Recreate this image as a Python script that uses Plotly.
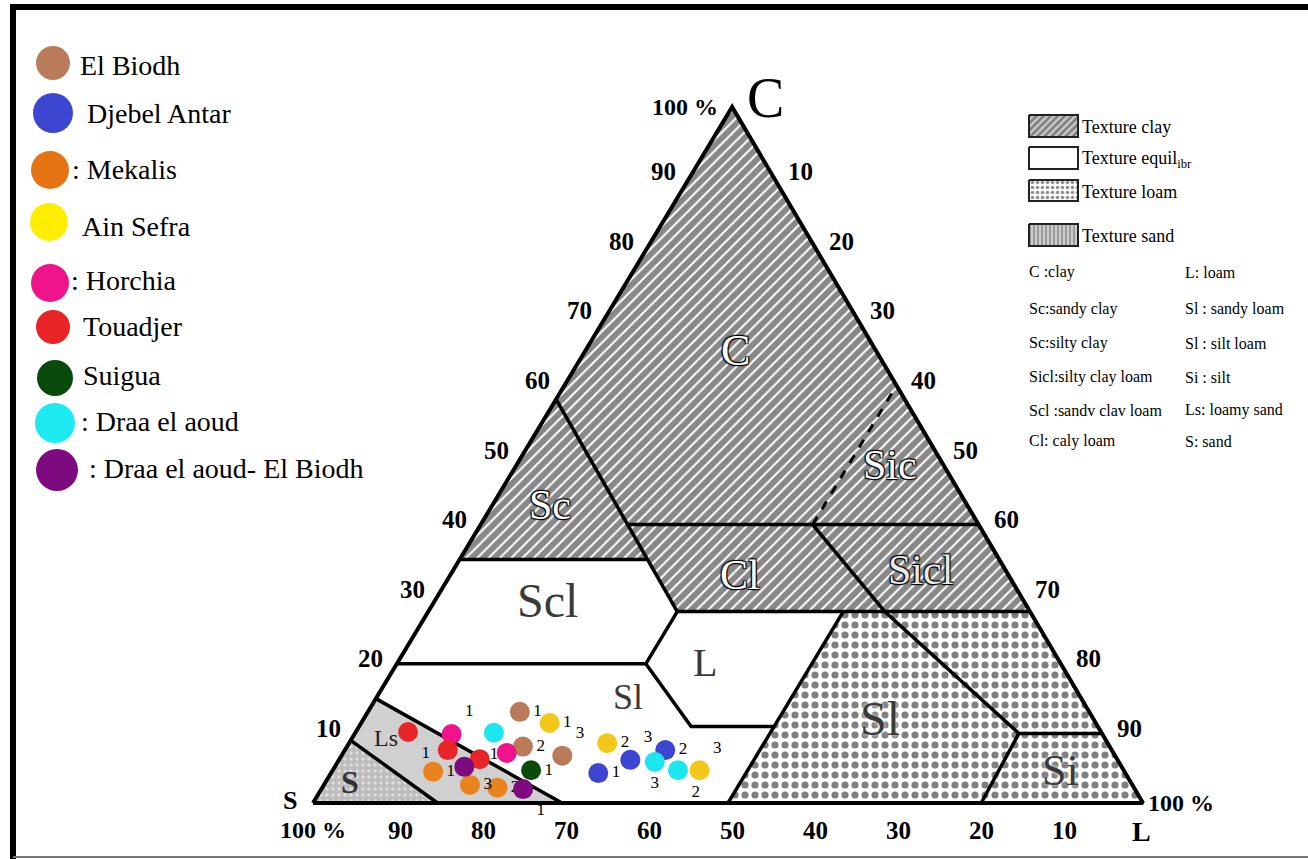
import plotly.graph_objects as go

# ------------------------------------------------------------------ data
# soil texture of each sample (percent clay / silt / sand)
elbiodh_clay = [13.1, 8.1, 6.8]
elbiodh_silt = [18.3, 21.2, 26.6]
elbiodh_sand = [68.6, 70.7, 66.6]
elbiodh_lab = ["1", "2", "3"]

djebel_clay = [4.3, 7.6, 6.2]
djebel_silt = [32.2, 38.6, 35.1]
djebel_sand = [63.5, 53.8, 58.7]
djebel_lab = ["1", "2", "3"]

mekalis_clay = [4.5, 2.2, 2.6]
mekalis_silt = [12.2, 21.1, 17.6]
mekalis_sand = [83.3, 76.7, 79.8]
mekalis_lab = ["1", "2", "3"]

ainsefra_clay = [11.5, 8.6, 4.7]
ainsefra_silt = [22.7, 31.1, 44.2]
ainsefra_sand = [65.8, 60.3, 51.1]
ainsefra_lab = ["1", "2", "3"]

horchia_clay = [9.9, 7.2]
horchia_silt = [11.7, 19.7]
horchia_sand = [78.4, 73.1]
horchia_lab = ["1", None]

touadjer_clay = [10.2, 7.6, 6.3]
touadjer_silt = [6.3, 12.4, 16.9]
touadjer_sand = [83.5, 80.0, 76.8]
touadjer_lab = ["1", None, None]

suigua_clay = [4.7]
suigua_silt = [23.9]
suigua_sand = [71.4]
suigua_lab = ["1"]

draa_clay = [10.1, 4.7, 5.9]
draa_silt = [16.7, 41.6, 38.2]
draa_sand = [73.2, 53.7, 55.9]
draa_lab = ["1", "2", "3"]

draabio_clay = [5.2, 2.0]
draabio_silt = [15.6, 24.3]
draabio_sand = [79.2, 73.7]
draabio_lab = [None, "1"]

axis_ticks = [10, 20, 30, 40, 50, 60, 70, 80, 90]

# ------------------------------------------------------------------ geometry helpers
W, H = 1308, 859
X0, YB, SX, SY = 313.0, 803.0, 8.3, 6.96   # pixel placement of the triangle
APEX = 0.505                                 # horizontal position of clay apex


def tern(clay, silt):
    """ternary (clay, silt) -> cartesian axis coordinates"""
    return silt + APEX * clay, clay


def tern_list(pts):
    xs, ys = [], []
    for p in pts:
        if p is None:
            xs.append(None); ys.append(None)
        else:
            x, y = tern(*p)
            xs.append(x); ys.append(y)
    return xs, ys


def P(px, py):
    """pixel -> axis coordinates (for decorations)"""
    return (px - X0) / SX, (YB - py) / SY


FONT = "Liberation Serif"
fig = go.Figure()

# ------------------------------------------------------------------ texture regions
clay_pat = dict(shape="/", fgcolor="#111111", bgcolor="white", size=8, solidity=0.75)
loam_pat = dict(shape=".", fgcolor="black", bgcolor="white", size=10, solidity=0.4)
sand_pat = dict(shape=".", fgcolor="white", bgcolor="#bdbdbd", size=6, solidity=0.25)


def region(pts, **kw):
    xs, ys = tern_list(pts + [pts[0]])
    fig.add_trace(go.Scatter(x=xs, y=ys, mode="lines", fill="toself",
                             line=dict(width=0), hoverinfo="skip",
                             showlegend=False, **kw))


# clay texture (C, Sc, Sic, Cl, Sicl)
region([(35, 0), (100, 0), (27.5, 72.5), (27.5, 30), (35, 22.5)],
       fillpattern=clay_pat, fillcolor="white")
# loam texture (Sl, Sil, Si)
region([(27.5, 50), (27.5, 72.5), (0, 100), (0, 50)],
       fillpattern=loam_pat, fillcolor="white")
# loamy sand
region([(15, 0), (9, 0), (0, 15), (0, 30)], fillcolor="#d0d0d0")
# sand
region([(0, 0), (9, 0), (0, 15)], fillpattern=sand_pat, fillcolor="#bdbdbd")

# ------------------------------------------------------------------ boundaries
lines_solid = [
    (58, 0), (27.5, 30), None,
    (40, 17.7), (40, 60), None,
    (35, 0), (35, 22.5), None,
    (27.5, 30), (27.5, 72.5), None,
    (20, 0), (20, 30), (27.5, 30), None,
    (20, 30), (11, 40), (11, 50), None,
    (27.5, 50), (0, 50), None,
    (40, 40), (27.5, 55), (10, 80), (10, 90), None,
    (10, 80), (0, 80.5), None,
    (15, 0), (0, 30), None,
    (9, 0), (0, 15), None,
]
xs, ys = tern_list(lines_solid)
fig.add_trace(go.Scatter(x=xs, y=ys, mode="lines", line=dict(color="black", width=3.5),
                         hoverinfo="skip", showlegend=False))
xs, ys = tern_list([(40, 40), (60, 40)])
fig.add_trace(go.Scatter(x=xs, y=ys, mode="lines",
                         line=dict(color="black", width=3, dash="dash"),
                         hoverinfo="skip", showlegend=False))
# outer triangle
xs, ys = tern_list([(0, 0), (100, 0), (0, 100), (0, 0)])
fig.add_trace(go.Scatter(x=xs, y=ys, mode="lines", line=dict(color="black", width=4),
                         hoverinfo="skip", showlegend=False))

# ------------------------------------------------------------------ samples
samples = [
    ("El Biodh", elbiodh_clay, elbiodh_silt, elbiodh_lab, "#B97B5A",
     ["middle right", "middle right", "top right"]),
    ("Djebel Antar", djebel_clay, djebel_silt, djebel_lab, "#3C46D0",
     ["middle right", "middle right", "top right"]),
    ("Mekalis", mekalis_clay, mekalis_silt, mekalis_lab, "#EA821E",
     ["middle right", "middle right", "middle right"]),
    ("Ain Sefra", ainsefra_clay, ainsefra_silt, ainsefra_lab, "#F3C81A",
     ["middle right", "middle right", "top right"]),
    ("Horchia", horchia_clay, horchia_silt, horchia_lab, "#F0148C",
     ["top right", "middle right"]),
    ("Touadjer", touadjer_clay, touadjer_silt, touadjer_lab, "#E8262A",
     ["bottom right", "middle right", "middle right"]),
    ("Suigua", suigua_clay, suigua_silt, suigua_lab, "#0A4A0A", ["middle right"]),
    ("Draa el aoud", draa_clay, draa_silt, draa_lab, "#1EE6EE",
     ["bottom center", "bottom right", "bottom center"]),
    ("Draa el aoud- El Biodh", draabio_clay, draabio_silt, draabio_lab, "#7E0A80",
     ["middle right", "bottom right"]),
]
for name, cl, si, lab, col, pos in samples:
    xs = [s + APEX * c for c, s in zip(cl, si)]
    fig.add_trace(go.Scatter(
        x=xs, y=cl, mode="markers+text", name=name,
        marker=dict(size=20, color=col, line=dict(width=0)),
        text=lab, textposition=pos,
        textfont=dict(family=FONT, size=17, color="black"),
        showlegend=False))

# ------------------------------------------------------------------ annotations
anns = []


def A(x, y, text, size, color="black", xanchor="center", yanchor="middle",
      bold=False, shadow=None):
    f = dict(family=FONT, size=size, color=color)
    if bold:
        f["weight"] = "bold"
    if shadow:
        f["shadow"] = shadow
    anns.append(dict(x=x, y=y, xref="x", yref="y", text=text, showarrow=False,
                     xanchor=xanchor, yanchor=yanchor, font=f))


def AP(px, py, text, size, **kw):
    x, y = P(px, py)
    A(x, y, text, size, **kw)


tick_font = dict(family=FONT, size=25, weight="bold", color="black")
for t in axis_ticks:
    # clay on the left edge
    x, y = tern(t, 0)
    anns.append(dict(x=x, y=y, text=str(t), showarrow=False, xanchor="right",
                     yanchor="middle", xshift=-12, yshift=5, font=tick_font))
    # silt on the right edge
    x, y = tern(100 - t, t)
    anns.append(dict(x=x, y=y, text=str(t), showarrow=False, xanchor="left",
                     yanchor="middle", xshift=13, yshift=5, font=tick_font))
    # sand on the bottom edge
    x, y = tern(0, 100 - t)
    anns.append(dict(x=x, y=y, text=str(t), showarrow=False, xanchor="center",
                     yanchor="middle", xshift=4, yshift=-27, font=tick_font))

AP(685, 107, "100 %", 24, bold=True)
AP(765, 98, "C", 56)
AP(313, 830, "100 %", 24, bold=True)
AP(290, 800, "S", 26, bold=True)
AP(1181, 803, "100 %", 24, bold=True)
AP(1141, 831, "L", 28, bold=True)

# region labels
sh = "1px 1px 1px #000, -1px -1px 1px #000, 1px -1px 1px #000, -1px 1px 1px #000"
AP(735, 350, "C", 44, color="white", shadow=sh)
AP(550, 505, "Sc", 42, color="white", shadow=sh)
AP(890, 465, "Sic", 42, color="white", shadow=sh)
AP(740, 575, "Cl", 42, color="white", shadow=sh)
AP(920, 570, "Sicl", 42, color="#e8e8e8", shadow=sh)
AP(547, 600, "Scl", 48, color="#3a3a3a")
AP(705, 662, "L", 40, color="#3a3a3a")
AP(628, 697, "Sl", 36, color="#3a3a3a")
AP(880, 718, "Sl", 48, color="#3a3a3a", shadow="0px 0px 4px #fff")
AP(1060, 770, "Si", 44, color="#3a3a3a", shadow="0px 0px 4px #fff")
AP(386, 738, "Ls", 24, color="#222222")
AP(350, 782, "S", 32, color="#333333", bold=True)

# site legend (left)
site_legend = [
    (53, 63, 17, "#B97B5A", "El Biodh", 78, 65),
    (53, 113, 20, "#3C46D0", "Djebel Antar", 85, 113),
    (50, 170, 19, "#E57312", ": Mekalis", 70, 169),
    (49, 222, 19, "#FFEE00", "Ain Sefra", 80, 226),
    (50, 283, 19, "#F0148C", ": Horchia", 69, 280),
    (53, 327, 17, "#E82424", "Touadjer", 81, 326),
    (55, 378, 18, "#0A4A0A", "Suigua", 81, 375),
    (55, 423, 20, "#1EEAF2", ": Draa el aoud", 79, 421),
    (57, 470, 21, "#7E0A80", ": Draa el aoud- El Biodh", 87, 468),
]
shapes = []
for cx, cy, r, col, txt, tx_, ty_ in site_legend:
    x0, y0 = P(cx - r, cy + r)
    x1, y1 = P(cx + r, cy - r)
    shapes.append(dict(type="circle", xref="x", yref="y", x0=x0, y0=y0, x1=x1, y1=y1,
                       fillcolor=col, line=dict(width=0)))
    AP(tx_, ty_, txt, 28, xanchor="left")

# texture legend (right)
tex_legend = [
    (115, 137, dict(fillpattern=dict(shape="/", fgcolor="#333", bgcolor="#ccc", size=5, solidity=0.55)),
     "Texture clay"),
    (147, 169, dict(fillcolor="white"), "Texture equil<sub>ibr</sub>"),
    (180, 201, dict(fillpattern=dict(shape=".", fgcolor="#222", bgcolor="white", size=5, solidity=0.4)),
     "Texture loam"),
    (224, 246, dict(fillpattern=dict(shape="|", fgcolor="#666", bgcolor="#ccc", size=4, solidity=0.5)),
     "Texture sand"),
]
for y0p, y1p, style, txt in tex_legend:
    xa, ya = P(1029, y0p)
    xb, yb = P(1078, y1p)
    fig.add_trace(go.Scatter(x=[xa, xb, xb, xa, xa], y=[ya, ya, yb, yb, ya], mode="lines",
                             fill="toself", line=dict(color="#222", width=2),
                             hoverinfo="skip", showlegend=False, **style))
    AP(1080, (y0p + y1p) / 2 + 1, txt, 18, xanchor="left")

abbr_left = ["C :clay", "Sc:sandy clay", "Sc:silty clay", "Sicl:silty clay loam",
             "Scl :sandv clav loam", "Cl: caly loam"]
abbr_right = ["L: loam", "Sl : sandy loam", "Sl : silt loam", "Si : silt",
              "Ls: loamy sand", "S: sand"]
abbr_y = [272, 309, 343, 377, 410, 441]
for yy, a, b in zip(abbr_y, abbr_left, abbr_right):
    AP(1027, yy, a, 16, xanchor="left")
    AP(1183, yy, b, 16, xanchor="left")

# frame
shapes += [
    dict(type="line", xref="paper", yref="paper", x0=10 / W, x1=1, y0=1 - 7 / H, y1=1 - 7 / H,
         line=dict(color="black", width=6)),
    dict(type="line", xref="paper", yref="paper", x0=13 / W, x1=13 / W, y0=0, y1=1 - 4 / H,
         line=dict(color="black", width=6)),
    dict(type="line", xref="paper", yref="paper", x0=13 / W, x1=1, y0=1 - 857 / H, y1=1 - 857 / H,
         line=dict(color="#777", width=2)),
]

xmin, ymax = P(0, 0)
xmax, ymin = P(W, H)
fig.update_layout(
    width=W, height=H, autosize=False,
    margin=dict(l=0, r=0, t=0, b=0),
    paper_bgcolor="white", plot_bgcolor="white",
    xaxis=dict(range=[xmin, xmax], visible=False, fixedrange=True),
    yaxis=dict(range=[ymin, ymax], visible=False, fixedrange=True),
    annotations=anns, shapes=shapes,
    font=dict(family=FONT),
    showlegend=False,
)

fig.write_html("out.html", post_script="document.body.style.margin='0';",
               config={"displayModeBar": False})
